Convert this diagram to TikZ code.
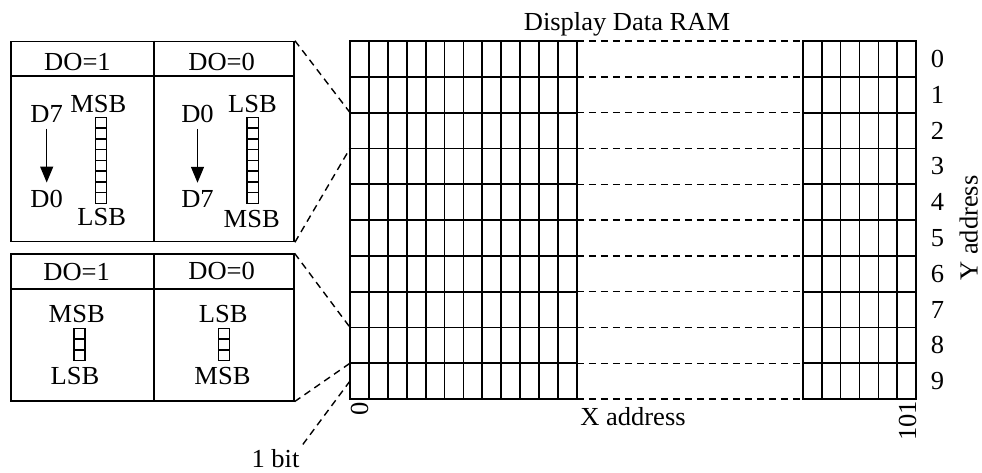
\documentclass[tikz,border=0pt]{standalone}
\usepackage{fontspec}
\setmainfont{Liberation Serif}[FakeStretch=1.02]
\usetikzlibrary{arrows.meta}
\begin{document}
\begin{tikzpicture}[x=1pt,y=-1pt,
  every node/.style={font=\fontsize{26}{31}\selectfont, inner sep=0pt},
  frame/.style={draw, line width=1.6pt},
  gridline/.style={line width=1.8pt, line cap=rect},
  dashline/.style={line width=1.4pt, dash pattern=on 7pt off 5pt},
  bitcell/.style={line width=1.4pt},
  downarrow/.style={line width=1.3pt, -{Triangle[width=13pt,length=16pt]}}]
\useasboundingbox (0,0) rectangle (982,472);
% ---------- Display Data RAM grid ----------
\foreach \i in {0,...,12} \draw[gridline] ({350+18.91*\i},41) -- ({350+18.91*\i},399);
\foreach \i in {0,...,6} \draw[gridline] ({802.7+18.93*\i},41) -- ({802.7+18.93*\i},399);
\foreach \k in {0,...,10} {
  \draw[gridline] (350,{41+35.8*\k}) -- (576.9,{41+35.8*\k});
  \draw[gridline] (802.7,{41+35.8*\k}) -- (916.3,{41+35.8*\k});
  \draw[dashline] (576.9,{41+35.8*\k}) -- (802.7,{41+35.8*\k});
  \coordinate (g\k) at (350,{41+35.8*\k});
}
\coordinate (g9m) at (350,381);
\foreach \k in {0,...,9} \node[anchor=base] (y\k) at (937.5,{41+35.8*\k+17.9+8.6}) {\k};
\node[anchor=base] (title) at (627,30) {Display Data RAM};
\node[anchor=base] (xaddr) at (633,425) {X address};
\node[rotate=90, anchor=base] (yaddr) at (977.5,228) {Y address};
\node[rotate=90, anchor=base east] (x0) at (368,402) {0};
\node[rotate=90, anchor=base east] (x101) at (916,401) {101};
% ---------- upper box ----------
\node[frame, minimum width=283.3pt, minimum height=200pt, anchor=north west] (boxA) at (10,40.7) {};
\draw[frame] (10,75.7) -- (293.3,75.7);
\draw[frame] (153.7,40.7) -- (153.7,240.7);
\node (ha1) at (77.5,61.7) {DO=1};
\node (ha0) at (221.7,61.7) {DO=0};
\node (d7a) at (46.7,114) {D7};
\node (msba) at (98.3,104) {MSB};
\node (d0a) at (46.7,199) {D0};
\node (lsba) at (101.7,217.5) {LSB};
\draw[downarrow, shorten <=6pt, shorten >=7.5pt] (d7a.south) -- (d0a.north);
\foreach \j in {0,...,7} \draw[bitcell] (95.7,{117.3+10.75*\j}) rectangle ++(11,10.75);
\node (d0b) at (197.5,114) {D0};
\node (lsbb) at (252.5,104) {LSB};
\node (d7b) at (197.5,199) {D7};
\node (msbb) at (251.7,219) {MSB};
\draw[downarrow, shorten <=6pt, shorten >=7.5pt] (d0b.south) -- (d7b.north);
\foreach \j in {0,...,7} \draw[bitcell] (247,{117.3+10.75*\j}) rectangle ++(11.5,10.75);
% ---------- lower box ----------
\node[frame, minimum width=283pt, minimum height=146.7pt, anchor=north west] (boxB) at (10,253.3) {};
\draw[frame] (10,289) -- (293,289);
\draw[frame] (153.7,253.3) -- (153.7,400);
\node (hb1) at (76.7,272.5) {DO=1};
\node (hb0) at (221.7,271) {DO=0};
\node (msbc) at (76.7,314) {MSB};
\node (lsbc) at (75,376) {LSB};
\foreach \j in {0,...,2} \draw[bitcell] (74,{328.3+10.8*\j}) rectangle ++(11,10.8);
\node (lsbd) at (223.3,314) {LSB};
\node (msbd) at (222.5,376) {MSB};
\foreach \j in {0,...,2} \draw[bitcell] (218.3,{328.3+10.8*\j}) rectangle ++(11,10.8);
% ---------- connectors ----------
\draw[dashline] (boxA.north east) -- (g2);
\draw[dashline] (boxA.south east) -- (g3);
\draw[dashline] (boxB.north east) -- (g8);
\draw[dashline] (boxB.south east) -- (g9);
\node[anchor=base] (onebit) at (275.5,467) {1 bit};
\draw[dashline, shorten >=3pt] (g9m) -- (onebit.north east);
\end{tikzpicture}
\end{document}
